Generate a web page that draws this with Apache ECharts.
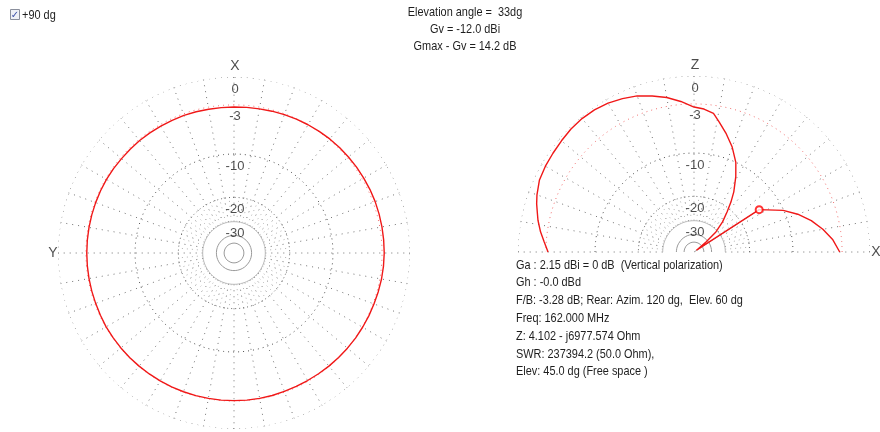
<!DOCTYPE html>
<html>
<head>
<meta charset="utf-8">
<script src="https://cdn.jsdelivr.net/npm/echarts@6/dist/echarts.min.js"></script>
<style>
  html, body { margin: 0; padding: 0; background: #fff; }
  #chart { width: 880px; height: 432px; }
</style>
</head>
<body>
<div id="chart"></div>
<script>
// Grid rings (dB) and the rings that carry a value label
const RING_DB = [0, -3, -10, -20, -30, -40, -50];
const RING_LABEL_DB = [0, -3, -10, -20, -30];
const RING_LABELS = ['0', '-3', '-10', '-20', '-30'];

// Horizontal (azimuth) pattern: angle counter-clockwise from X, gain in dB
const AZ_ANGLES = [0, 5, 10, 15, 20, 25, 30, 35, 40, 45, 50, 55, 60, 65, 70, 75, 80, 85, 90,
                   95, 100, 105, 110, 115, 120, 125, 130, 135, 140, 145, 150, 155, 160, 165, 170, 175, 180,
                   185, 190, 195, 200, 205, 210, 215, 220, 225, 230, 235, 240, 245, 250, 255, 260, 265, 270,
                   275, 280, 285, 290, 295, 300, 305, 310, 315, 320, 325, 330, 335, 340, 345, 350, 355, 360];
const AZ_DB = [-3.25, -3.25, -3.25, -3.22, -3.2, -3.2, -3.2, -3.17, -3.15, -3.15, -3.15, -3.12, -3.1, -3.1, -3.1, -3.1, -3.1, -3.1, -3.1,
               -3.1, -3.1, -3.1, -3.1, -3.08, -3.05, -3.05, -3.05, -3.05, -3.05, -3.05, -3.05, -3.05, -3.05, -3.05, -3.05, -3.05, -3.05,
               -3.05, -3.05, -3.07, -3.1, -3.1, -3.1, -3.08, -3.05, -3.02, -3.0, -2.97, -2.95, -2.92, -2.9, -2.85, -2.8, -2.77, -2.75,
               -2.75, -2.75, -2.75, -2.75, -2.77, -2.8, -2.82, -2.85, -2.87, -2.9, -2.95, -3.0, -3.05, -3.1, -3.15, -3.2, -3.22, -3.25];

// Vertical (elevation) pattern: angle from X towards Z, gain in dB
const EL_ANGLES = [0, 5, 10, 15, 20, 25, 30, 33, 36, 40, 42.5, 46.5, 50.5, 53.5, 56.5, 61, 65, 70, 75, 79, 82, 86, 90,
                   95, 100, 105, 110, 115, 120, 125, 130, 135, 140, 145, 150, 155, 160, 163, 166, 168.5, 172.5, 176, 180];
const EL_DB = [-3.28, -4.05, -5.15, -6.45, -8.1, -10.1, -12.8, -14.2, -70, -42, -30.9, -25.1, -21.2, -18.1, -15.5, -12.4, -10.0, -7.9, -6.2, -4.95, -3.98, -3.57, -3.37,
               -2.65, -2.0, -1.5, -1.0, -0.68, -0.4, -0.24, -0.18, -0.2, -0.3, -0.38, -0.44, -0.55, -0.9, -1.17, -1.5, -1.74, -2.23, -2.74, -3.25];

// Selected elevation
const MARK_ANGLE = 33;
const MARK_DB = -14.2;

const TITLE_LINES = ['Elevation angle =  33dg', 'Gv = -12.0 dBi', 'Gmax - Gv = 14.2 dB'];
const INFO_LINES = [
  'Ga : 2.15 dBi = 0 dB  (Vertical polarization)',
  'Gh : -0.0 dBd',
  'F/B: -3.28 dB; Rear: Azim. 120 dg,  Elev. 60 dg',
  'Freq: 162.000 MHz',
  'Z: 4.102 - j6977.574 Ohm',
  'SWR: 237394.2 (50.0 Ohm),',
  'Elev: 45.0 dg (Free space )'
];
const CHECK_LABEL = '+90 dg';

const FONT = '"Liberation Sans", Arial, sans-serif';
const TEXT_COLOR = '#1e1e1e';
const PATTERN_COLOR = '#f01818';
const NARROW = 0.84;   // horizontal squeeze for the narrow UI font

// Radial scale: radius proportional to 10^(dB/40)
const toR = dB => Math.pow(10, dB / 40);

const RING_STYLE = {
  '0':   { color: '#585858', type: [1, 5] },
  '-3':  { color: '#f07070', type: [1, 4] },
  '-10': { color: '#505050', type: [1, 4] },
  '-20': { color: '#6a6a6a', type: [1, 3] },
  '-30': { color: '#bdbdbd', type: 'solid' },
  '-40': { color: '#9a9a9a', type: 'solid' },
  '-50': { color: '#9a9a9a', type: 'solid' }
};

function ringSeries(polarIndex, dB, span) {
  const pts = [];
  for (let a = 0; a <= span; a += 2) pts.push([toR(dB), a]);
  const st = RING_STYLE[String(dB)];
  return {
    type: 'line', coordinateSystem: 'polar', polarIndex, data: pts,
    symbol: 'none', silent: true, z: 1,
    lineStyle: { color: st.color, width: 1, type: st.type }
  };
}

function spokeSeries(polarIndex, span) {
  const data = [];
  // 10-degree spokes from the -30 ring to the outer ring
  for (let a = 0; a <= span; a += 10) {
    if (span === 360 && a === 360) break;
    data.push([toR(-30), a, toR(0), 0]);
  }
  // 5-degree fill-in spokes between -30 and -20 rings
  for (let a = 5; a < span; a += 10) data.push([toR(-30), a, toR(-20), 1]);
  return {
    type: 'custom', coordinateSystem: 'polar', polarIndex, data, silent: true, z: 1,
    renderItem(params, api) {
      const a = api.value(1);
      const p1 = api.coord([api.value(0), a]);
      const p2 = api.coord([api.value(2), a]);
      const minor = api.value(3) === 1;
      return {
        type: 'line',
        shape: { x1: p1[0], y1: p1[1], x2: p2[0], y2: p2[1] },
        style: { stroke: minor ? '#b4b4b4' : '#737373', lineWidth: 1, lineDash: minor ? [1, 4] : [1, 5] }
      };
    }
  };
}

function labelSeries(polarIndex, angle) {
  return {
    type: 'scatter', coordinateSystem: 'polar', polarIndex, silent: true, z: 5,
    symbolSize: 0,
    data: RING_LABEL_DB.map(d => [toR(d), angle]),
    label: {
      show: true, position: 'inside', offset: [1, 12],
      formatter: p => RING_LABELS[p.dataIndex],
      fontFamily: FONT, fontSize: 13, color: TEXT_COLOR
    }
  };
}

function axisLetter(polarIndex, angle, text, offset) {
  return {
    type: 'scatter', coordinateSystem: 'polar', polarIndex, silent: true, z: 5,
    symbolSize: 0, data: [[1, angle]],
    label: { show: true, position: 'inside', offset, formatter: text,
             fontFamily: FONT, fontSize: 14, color: TEXT_COLOR }
  };
}

const series = [];
// Left: horizontal plane, full circle
RING_DB.forEach(d => series.push(ringSeries(0, d, 360)));
series.push(spokeSeries(0, 360));
series.push(labelSeries(0, 0));
series.push(axisLetter(0, 0, 'X', [1, -11]));
series.push(axisLetter(0, 90, 'Y', [-5, 0]));
series.push({
  type: 'line', coordinateSystem: 'polar', polarIndex: 0, symbol: 'none', z: 3,
  data: AZ_ANGLES.map((a, i) => [toR(AZ_DB[i]), a]),
  lineStyle: { color: PATTERN_COLOR, width: 1.4 }
});

// Right: vertical plane, upper half
RING_DB.forEach(d => series.push(ringSeries(1, d, 180)));
series.push(spokeSeries(1, 180));
series.push(labelSeries(1, 90));
series.push(axisLetter(1, 90, 'Z', [1, -11]));
series.push(axisLetter(1, 0, 'X', [6, 0]));
series.push({
  type: 'line', coordinateSystem: 'polar', polarIndex: 1, symbol: 'none', z: 3,
  data: [[0, MARK_ANGLE], [toR(MARK_DB), MARK_ANGLE]],
  lineStyle: { color: '#a0a0a0', width: 1 }
});
series.push({
  type: 'line', coordinateSystem: 'polar', polarIndex: 1, symbol: 'none', z: 3,
  data: EL_ANGLES.map((a, i) => [toR(EL_DB[i]), a]),
  lineStyle: { color: PATTERN_COLOR, width: 1.4 }
});
series.push({
  type: 'scatter', coordinateSystem: 'polar', polarIndex: 1, z: 4,
  data: [[toR(MARK_DB), MARK_ANGLE]],
  symbol: 'circle', symbolSize: 7,
  itemStyle: { color: '#ffffff', borderColor: '#ff0000', borderWidth: 2 }
});

const graphic = [];
TITLE_LINES.forEach((t, i) => graphic.push({
  type: 'text', x: 465, y: 12 + i * 17, scaleX: NARROW,
  style: { text: t, fontFamily: FONT, fontSize: 13, fill: TEXT_COLOR, align: 'center', verticalAlign: 'middle' }
}));
INFO_LINES.forEach((t, i) => graphic.push({
  type: 'text', x: 516, y: 265 + i * 17.8, scaleX: NARROW,
  style: { text: t, fontFamily: FONT, fontSize: 13, fill: TEXT_COLOR, align: 'left', verticalAlign: 'middle' }
}));
// checkbox
graphic.push({
  type: 'rect', shape: { x: 10.5, y: 9.5, width: 9, height: 10 },
  style: { fill: '#eef0f6', stroke: '#8a8f9c', lineWidth: 1 }
});
graphic.push({
  type: 'text', x: 15, y: 15,
  style: { text: '\u2713', fontFamily: 'DejaVu Sans', fontSize: 10, fill: '#3a4fa8', align: 'center', verticalAlign: 'middle' }
});
graphic.push({
  type: 'text', x: 22, y: 15, scaleX: NARROW,
  style: { text: CHECK_LABEL, fontFamily: FONT, fontSize: 13, fill: TEXT_COLOR, align: 'left', verticalAlign: 'middle' }
});

const chart = echarts.init(document.getElementById('chart'), null, { renderer: 'canvas' });
chart.setOption({
  animation: false,
  backgroundColor: '#ffffff',
  polar: [
    { center: [234, 253], radius: 176 },
    { center: [694, 252], radius: 176 }
  ],
  radiusAxis: [
    { polarIndex: 0, type: 'value', min: 0, max: 1, show: false },
    { polarIndex: 1, type: 'value', min: 0, max: 1, show: false }
  ],
  angleAxis: [
    { polarIndex: 0, type: 'value', min: 0, max: 360, startAngle: 90, clockwise: false, show: false },
    { polarIndex: 1, type: 'value', min: 0, max: 360, startAngle: 0, clockwise: false, show: false }
  ],
  series,
  graphic
});
</script>
</body>
</html>
